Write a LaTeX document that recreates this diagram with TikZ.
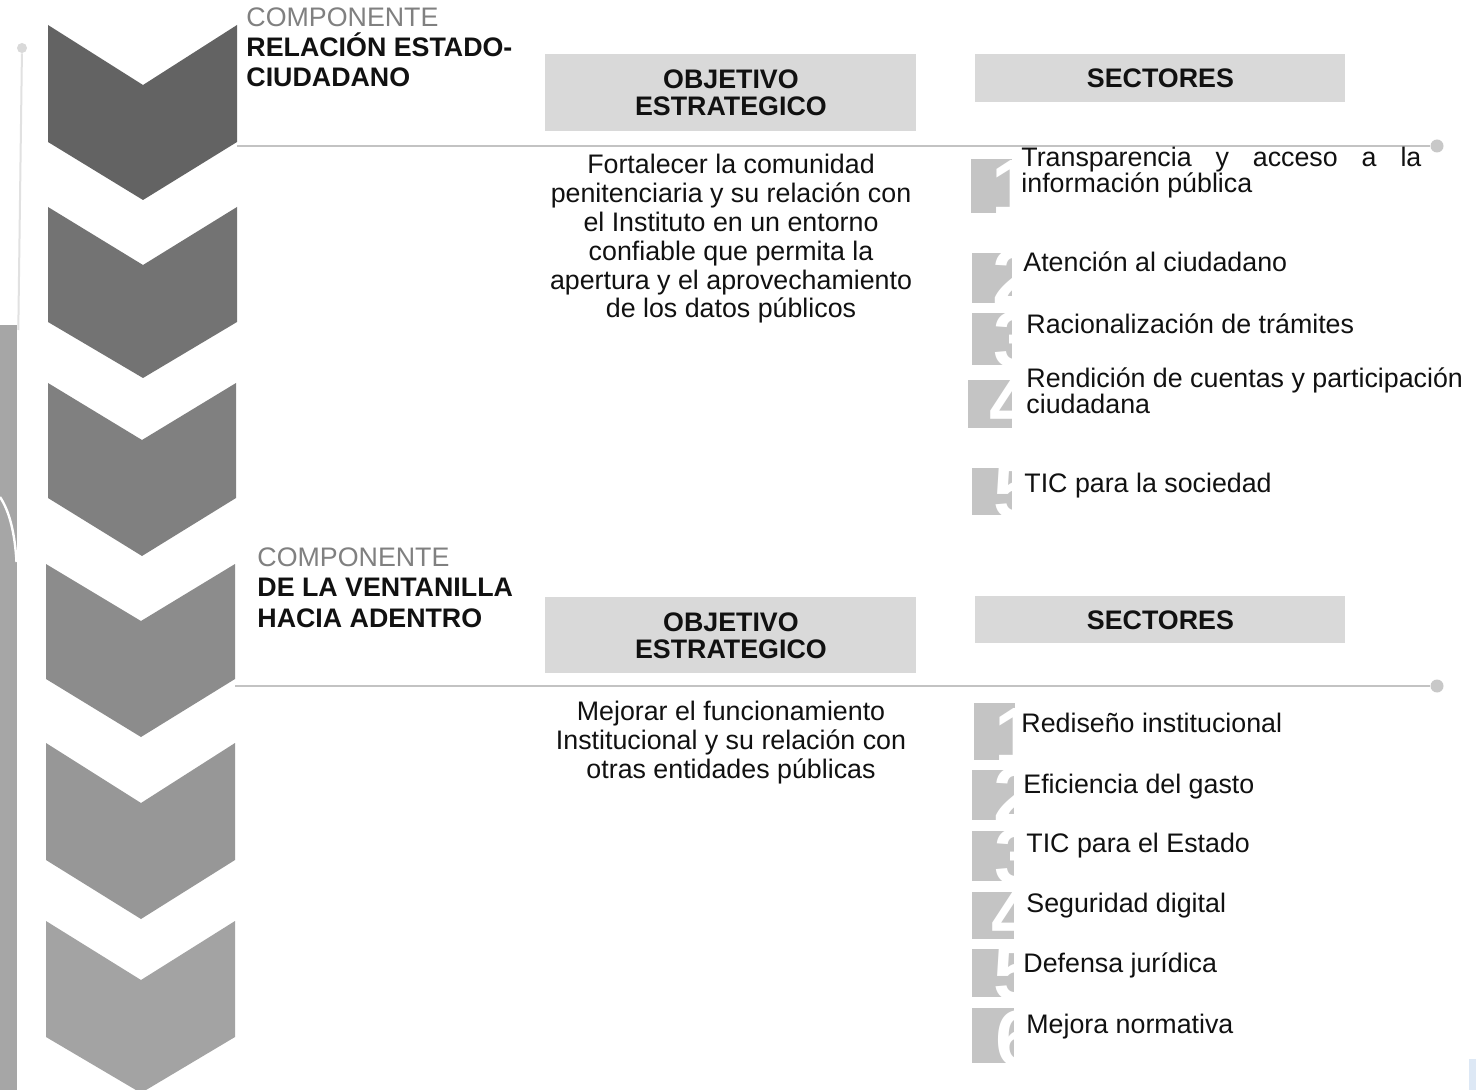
\documentclass[tikz,border=0pt]{standalone}
\usepackage{fontspec}
\setmainfont{Liberation Sans}
\definecolor{chevA}{HTML}{636363}
\definecolor{chevB}{HTML}{737373}
\definecolor{chevC}{HTML}{808080}
\definecolor{chevD}{HTML}{8C8C8C}
\definecolor{chevE}{HTML}{979797}
\definecolor{chevF}{HTML}{A3A3A3}
\definecolor{boxgray}{HTML}{D9D9D9}
\definecolor{sqgray}{HTML}{C4C4C4}
\definecolor{linegray}{HTML}{C3C3C3}
\definecolor{dotgray}{HTML}{C8C8C8}
\definecolor{compgray}{HTML}{808080}
\definecolor{bargray}{HTML}{A6A6A6}
\definecolor{txt}{HTML}{111111}
\definecolor{paleblue}{HTML}{DDE8F5}
\begin{document}
\begin{tikzpicture}[x=0.5pt,y=-0.5pt,
  comptitle/.style={font=\fontsize{13.4}{15}\selectfont, text=compgray, anchor=base west, inner sep=0},
  compname/.style={font=\bfseries\fontsize{13.4}{15.2}\selectfont, text=txt, anchor=base west, inner sep=0, align=left},
  headbox/.style={fill=boxgray, draw=none, inner sep=0, anchor=north west, font=\bfseries\fontsize{13.4}{13.5}\selectfont, text=txt, align=center},
  objtxt/.style={font=\fontsize{13.4}{14.4}\selectfont, text=txt, align=center, inner sep=0, anchor=base},
  sectxt/.style={font=\fontsize{13.4}{13.3}\selectfont, text=txt, align=left, inner sep=0, anchor=base west},
  digit/.style={text=white, font=\bfseries\fontsize{40}{40}\selectfont, anchor=base west, inner sep=0},
  sepline/.style={draw=linegray, line width=1.1pt},
  enddot/.style={circle, fill=dotgray, inner sep=0, minimum size=6.5pt},
]
\useasboundingbox (0,0) rectangle (1476,1090);
\fill[white] (0,0) rectangle (1476,1090);

% left decoration
\fill[bargray] (0,325) rectangle (17,1090);
\node[circle, fill=boxgray, inner sep=0, minimum size=5pt] (topdot) at (22,48) {};
\coordinate (lineend) at (18.3,330);
\draw[draw=boxgray!80, line width=1pt] (topdot) -- (lineend);
\draw[white, line width=1.2pt] (0,497) .. controls (10,512) and (15,535) .. (16.5,562);

% chevrons
\fill[chevA] (48,25) -- (143,85) -- (237,25) -- (237,142) -- (143,200) -- (48,142) -- cycle;
\fill[chevB] (48,207) -- (143,265) -- (237,207) -- (237,322) -- (143,378) -- (48,322) -- cycle;
\fill[chevC] (48,383) -- (142,440) -- (236,383) -- (236,498) -- (142,556) -- (48,498) -- cycle;
\fill[chevD] (46,564) -- (141,621) -- (235,564) -- (235,679) -- (141,737) -- (46,679) -- cycle;
\fill[chevE] (46,743) -- (141,803) -- (235,743) -- (235,860) -- (141,919) -- (46,860) -- cycle;
\fill[chevF] (46,921) -- (141,980) -- (235,921) -- (235,1037) -- (141,1093) -- (46,1037) -- cycle;

% ===== component 1 =====
\node[comptitle] (c1t) at (246,27) {COMPONENTE};
\node[compname] (c1n) at (246,87) {RELACIÓN ESTADO-\\CIUDADANO};
\node[headbox, minimum width=185.5pt, minimum height=38.5pt] (obj1) at (545,54) {OBJETIVO\\ESTRATEGICO};
\node[headbox, minimum width=185pt, minimum height=24pt] (sec1) at (975,54) {SECTORES};
\coordinate (l1s) at (237,146);
\node[enddot] (d1) at (1437,146) {};
\draw[sepline] (l1s) -- (d1);
\node[objtxt] (o1) at (731,318) {Fortalecer la comunidad\\penitenciaria y su relación con\\el Instituto en un entorno\\confiable que permita la\\apertura y el aprovechamiento\\de los datos públicos};

% number squares set 1
\begin{scope}
\clip (971,159) rectangle (1012,213);
\fill[sqgray] (971,159) rectangle (1012,213);
\node[digit] (n11) at (991,216) {1};
\end{scope}
\begin{scope}
\clip (972,253) rectangle (1012,303);
\fill[sqgray] (972,253) rectangle (1012,303);
\node[digit] (n12) at (992,306) {2};
\end{scope}
\begin{scope}
\clip (972,313) rectangle (1012,365);
\fill[sqgray] (972,313) rectangle (1012,365);
\node[digit] (n13) at (993,368) {3};
\end{scope}
\begin{scope}
\clip (968,380) rectangle (1012,428);
\fill[sqgray] (968,380) rectangle (1012,428);
\node[digit] (n14) at (989,431) {4};
\end{scope}
\begin{scope}
\clip (972,468) rectangle (1012,515);
\fill[sqgray] (972,468) rectangle (1012,515);
\node[digit] (n15) at (993,518) {5};
\end{scope}

\node[sectxt] (s11) at (1021,193) {\makebox[200pt][s]{Transparencia y acceso a la}\\información pública};
\node[sectxt] (s12) at (1023,272) {Atención al ciudadano};
\node[sectxt] (s13) at (1026,334) {Racionalización de trámites};
\node[sectxt] (s14) at (1026,414) {Rendición de cuentas y participación\\ciudadana};
\node[sectxt] (s15) at (1024,492) {TIC para la sociedad};

% ===== component 2 =====
\node[comptitle] (c2t) at (257,566) {COMPONENTE};
\node[compname] (c2n) at (257,627) {DE LA VENTANILLA\\HACIA ADENTRO};
\node[headbox, minimum width=185.5pt, minimum height=38pt] (obj2) at (545,597) {OBJETIVO\\ESTRATEGICO};
\node[headbox, minimum width=185pt, minimum height=23.5pt] (sec2) at (975,596) {SECTORES};
\coordinate (l2s) at (235,686);
\node[enddot] (d2) at (1437,686) {};
\draw[sepline] (l2s) -- (d2);
\node[objtxt] (o2) at (731,778) {Mejorar el funcionamiento\\Institucional y su relación con\\otras entidades públicas};

% number squares set 2
\begin{scope}
\clip (974,703) rectangle (1015,760);
\fill[sqgray] (974,703) rectangle (1015,760);
\node[digit] (n21) at (994,763) {1};
\end{scope}
\begin{scope}
\clip (972,770) rectangle (1014,820);
\fill[sqgray] (972,770) rectangle (1014,820);
\node[digit] (n22) at (993,823) {2};
\end{scope}
\begin{scope}
\clip (972,831) rectangle (1014,881);
\fill[sqgray] (972,831) rectangle (1014,881);
\node[digit] (n23) at (994,884) {3};
\end{scope}
\begin{scope}
\clip (972,892) rectangle (1014,939);
\fill[sqgray] (972,892) rectangle (1014,939);
\node[digit] (n24) at (991,942) {4};
\end{scope}
\begin{scope}
\clip (972,949) rectangle (1014,997);
\fill[sqgray] (972,949) rectangle (1014,997);
\node[digit] (n25) at (993,1000) {5};
\end{scope}
\begin{scope}
\clip (972,1008) rectangle (1014,1063);
\fill[sqgray] (972,1008) rectangle (1014,1063);
\node[digit] (n26) at (995,1066) {6};
\end{scope}

\node[sectxt] (s21) at (1021,732) {Rediseño institucional};
\node[sectxt] (s22) at (1023,793) {Eficiencia del gasto};
\node[sectxt] (s23) at (1026,852) {TIC para el Estado};
\node[sectxt] (s24) at (1026,912) {Seguridad digital};
\node[sectxt] (s25) at (1023,972) {Defensa jurídica};
\node[sectxt] (s26) at (1026,1033) {Mejora normativa};

\fill[paleblue] (1469,1059) rectangle (1476,1090);
\end{tikzpicture}
\end{document}
